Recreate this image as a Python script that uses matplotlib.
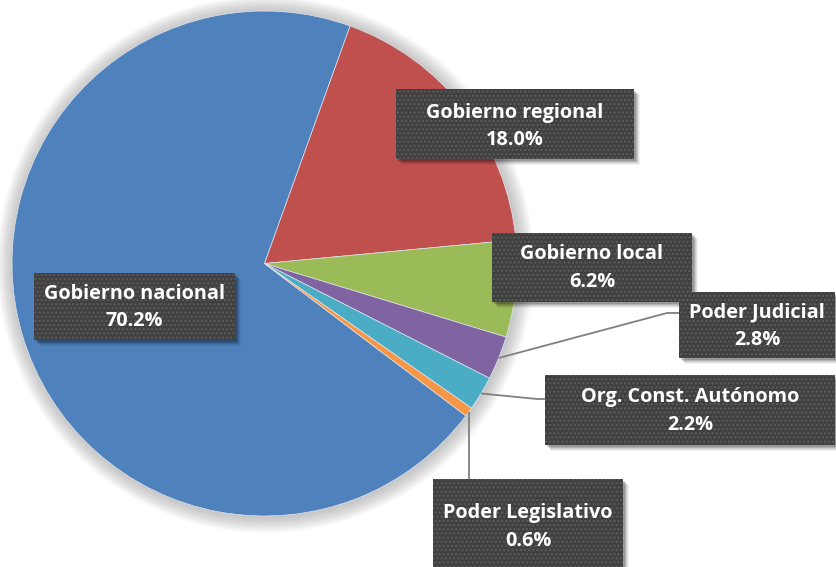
import matplotlib
matplotlib.use("Agg")
import matplotlib.pyplot as plt
from matplotlib.patches import Rectangle, Circle
import numpy as np

categories = ["Gobierno nacional", "Gobierno regional", "Gobierno local",
              "Poder Judicial", "Org. Const. Autónomo", "Poder Legislativo"]
values = [70.2, 18.0, 6.2, 2.8, 2.2, 0.6]
colors = ["#4F81BD", "#C0504D", "#9BBB59", "#8064A2", "#4BACC6", "#F79646"]

W, H = 836, 567
fig = plt.figure(figsize=(W / 100, H / 100), dpi=100)
ax = fig.add_axes([0, 0, 1, 1])
ax.set_xlim(0, W)
ax.set_ylim(0, H)
ax.set_aspect("equal")
ax.axis("off")

def Y(py):
    return H - py

cx, cy, R = 264.5, Y(263.5), 252.5

# soft glow around the pie
for k in range(16, 0, -1):
    ax.add_patch(Circle((cx + 1, cy - 1), R + k, color="#808080",
                        alpha=0.03, lw=0, zorder=1))

wedges, _ = ax.pie(values, colors=colors, startangle=-37.1, counterclock=False,
                   center=(cx, cy), radius=R, frame=True,
                   wedgeprops=dict(edgecolor="#dfe6ee", linewidth=0.5, zorder=2))
for w in wedges:
    w.set_zorder(2)
ax.set_xlim(0, W)
ax.set_ylim(0, H)
ax.axis("off")

def edge_point(i):
    w = wedges[i]
    a = np.deg2rad((w.theta1 + w.theta2) / 2)
    return cx + R * np.cos(a), cy + R * np.sin(a)

# leader lines (pixel-layout breakpoints)
leaders = {
    3: [(667, 313), (679, 313)],
    4: [(537, 399), (545, 399)],
    5: [(471, 479)],
}
for i, pts in leaders.items():
    x0, y0 = edge_point(i)
    if i == 5:
        xs = [x0, x0]
        ys = [y0, Y(pts[0][1])]
    else:
        xs = [x0] + [p[0] for p in pts]
        ys = [y0] + [Y(p[1]) for p in pts]
    ax.plot(xs, ys, color="#808080", lw=1.3, zorder=3, solid_capstyle="butt")

# label boxes: (left, top, right, bottom) in pixels, text center
boxes = [
    (34, 273, 235, 340, 134.5, 307.5),
    (396, 89, 634, 159, 515, 126.5),
    (492, 233, 692, 302, 592, 268),
    (679, 292, 835, 358, 757, 326),
    (545, 375, 835, 445, 690, 411),
    (433, 479, 623, 580, 528, 527),
]

for i, (l, t, r, b, tx, ty) in enumerate(boxes):
    w_, h_ = r - l, b - t
    for k, a in [(6, 0.05), (5, 0.07), (4, 0.09), (3, 0.12), (2, 0.15)]:
        ax.add_patch(Rectangle((l + k, Y(b) - k), w_, h_, color="#000000",
                               alpha=a, lw=0, zorder=4))
    ax.add_patch(Rectangle((l, Y(b)), w_, h_, facecolor="#404040",
                           edgecolor="none", lw=0, zorder=5))
    ax.add_patch(Rectangle((l, Y(b)), w_, h_, facecolor="none",
                           edgecolor="#5c5c5c", hatch="....", lw=0, zorder=6))
    ax.text(tx, Y(ty), f"{categories[i]}\n{values[i]:.1f}%", ha="center",
            va="center", color="white", fontsize=14.3, fontweight="bold",
            family=["Open Sans", "DejaVu Sans"], linespacing=1.5, zorder=7)

fig.savefig("out.png", dpi=100, facecolor="white")
